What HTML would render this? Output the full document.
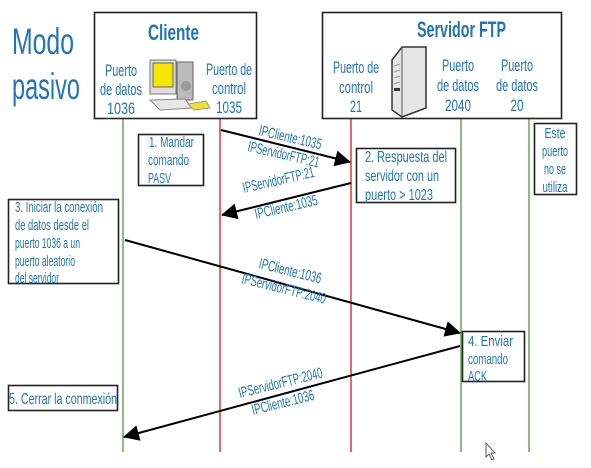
<!DOCTYPE html>
<html><head><meta charset="utf-8"><style>
body{margin:0;background:#fff}
svg{display:block}
text{font-family:"Liberation Sans Narrow","Liberation Sans",sans-serif;fill:#1f74bb}
.h{font-size:37px}
.t{font-size:22px;font-weight:bold}
.p{font-size:17px}
.n{font-size:15px}
.m{font-size:16px}
.l{font-size:15px}
</style></head><body>
<svg width="591" height="468" viewBox="0 0 591 468" xmlns="http://www.w3.org/2000/svg">
<defs>
<marker id="a2" markerWidth="16" markerHeight="16" refX="15" refY="8" orient="auto" markerUnits="userSpaceOnUse" viewBox="0 0 16 16"><path d="M0,0 L16,8 L0,16 z" fill="#000"/></marker></defs>

<line x1="123" y1="118" x2="123" y2="452" stroke="#4a9c3a" stroke-width="1.3"/>
<line x1="220" y1="118" x2="220" y2="452" stroke="#e11" stroke-width="1.3"/>
<line x1="351" y1="118" x2="351" y2="452" stroke="#e11" stroke-width="1.3"/>
<line x1="461" y1="118" x2="461" y2="452" stroke="#4a9c3a" stroke-width="1.3"/>
<line x1="529" y1="118" x2="529" y2="452" stroke="#4a9c3a" stroke-width="1.3"/>

<text class="h" x="12" y="54" textLength="62" lengthAdjust="spacingAndGlyphs">Modo</text>
<text class="h" x="12" y="99" textLength="68" lengthAdjust="spacingAndGlyphs">pasivo</text>

<rect x="94.5" y="12.5" width="162" height="106" fill="#fff" stroke="#222" stroke-width="1.6"/>
<text class="t" x="148" y="40" textLength="51" lengthAdjust="spacingAndGlyphs">Cliente</text>
<g class="p" text-anchor="middle">
<text x="121" y="76" textLength="32" lengthAdjust="spacingAndGlyphs">Puerto</text>
<text x="121" y="95" textLength="42" lengthAdjust="spacingAndGlyphs">de datos</text>
<text x="121" y="114" textLength="28" lengthAdjust="spacingAndGlyphs">1036</text>
<text x="229" y="75" textLength="46" lengthAdjust="spacingAndGlyphs">Puerto de</text>
<text x="229" y="94" textLength="34" lengthAdjust="spacingAndGlyphs">control</text>
<text x="229" y="113" textLength="26" lengthAdjust="spacingAndGlyphs">1035</text>
</g>
<rect x="150" y="60" width="26" height="34" fill="#ddd" stroke="#777"/>
<rect x="153" y="63" width="20" height="24" fill="#f5e600" stroke="#666"/>
<rect x="177" y="62" width="16" height="38" fill="#bbb" stroke="#666"/>
<circle cx="186" cy="86" r="5" fill="#999"/>
<path d="M150 100 L185 99 L192 108 L160 110 z" fill="#e8e8e8" stroke="#888"/>
<path d="M188 104 L206 101 L210 108 L194 110 z" fill="#f0e030" stroke="#999"/>

<rect x="322.5" y="12.5" width="239" height="106" fill="#fff" stroke="#222" stroke-width="1.6"/>
<text class="t" x="417" y="37" textLength="89" lengthAdjust="spacingAndGlyphs">Servidor FTP</text>
<g class="p" text-anchor="middle">
<text x="356" y="73" textLength="46" lengthAdjust="spacingAndGlyphs">Puerto de</text>
<text x="356" y="93" textLength="34" lengthAdjust="spacingAndGlyphs">control</text>
<text x="356" y="112" textLength="12" lengthAdjust="spacingAndGlyphs">21</text>
<text x="458" y="71" textLength="32" lengthAdjust="spacingAndGlyphs">Puerto</text>
<text x="458" y="91" textLength="42" lengthAdjust="spacingAndGlyphs">de datos</text>
<text x="458" y="111" textLength="26" lengthAdjust="spacingAndGlyphs">2040</text>
<text x="517" y="71" textLength="32" lengthAdjust="spacingAndGlyphs">Puerto</text>
<text x="517" y="91" textLength="42" lengthAdjust="spacingAndGlyphs">de datos</text>
<text x="517" y="111" textLength="13" lengthAdjust="spacingAndGlyphs">20</text>
</g>
<path d="M392 60 L402 47 L426 47 L426 108 L402 117 L392 110 z" fill="#e6e6e6" stroke="#333" stroke-width="1.5"/>
<path d="M402 47 L402 117" stroke="#555"/>
<g stroke="#999"><line x1="394" y1="66" x2="400" y2="64"/><line x1="394" y1="72" x2="400" y2="70"/><line x1="394" y1="78" x2="400" y2="76"/><line x1="394" y1="84" x2="400" y2="82"/></g>
<rect x="394" y="88" width="6" height="3" fill="#333"/>

<line x1="221" y1="130" x2="350" y2="162" stroke="#000" stroke-width="2" marker-end="url(#a2)"/>
<line x1="351" y1="183" x2="222" y2="215" stroke="#000" stroke-width="2" marker-end="url(#a2)"/>
<line x1="125" y1="240" x2="460" y2="333" stroke="#000" stroke-width="2" marker-end="url(#a2)"/>
<line x1="460" y1="346" x2="124" y2="437" stroke="#000" stroke-width="2" marker-end="url(#a2)"/>

<g class="l">
<text transform="translate(258,135) rotate(13)" textLength="64" lengthAdjust="spacingAndGlyphs">IPCliente:1035</text>
<text transform="translate(247,151) rotate(13)" textLength="73" lengthAdjust="spacingAndGlyphs">IPServidorFTP:21</text>
<text transform="translate(244,193) rotate(-13)" textLength="73" lengthAdjust="spacingAndGlyphs">IPServidorFTP:21</text>
<text transform="translate(256,219) rotate(-13)" textLength="64" lengthAdjust="spacingAndGlyphs">IPCliente:1035</text>
<text transform="translate(258,268) rotate(14)" textLength="64" lengthAdjust="spacingAndGlyphs">IPCliente:1036</text>
<text transform="translate(241,283) rotate(14)" textLength="86" lengthAdjust="spacingAndGlyphs">IPServidorFTP:2040</text>
<text transform="translate(240,398) rotate(-14)" textLength="86" lengthAdjust="spacingAndGlyphs">IPServidorFTP:2040</text>
<text transform="translate(253,415) rotate(-14)" textLength="64" lengthAdjust="spacingAndGlyphs">IPCliente:1036</text>
</g>

<g fill="#fff" stroke="#222" stroke-width="1.6">
<rect x="138.5" y="134.5" width="65" height="51"/>
<rect x="356.5" y="148.5" width="99" height="54"/>
<rect x="534.5" y="123.5" width="42" height="71"/>
<rect x="8.5" y="199.5" width="110" height="84"/>
<rect x="462.5" y="331.5" width="62" height="50"/>
<rect x="8.5" y="385.5" width="109" height="25"/>
</g>
<g class="n">
<text x="149" y="147" textLength="45" lengthAdjust="spacingAndGlyphs">1. Mandar</text>
<text x="148" y="165" textLength="41" lengthAdjust="spacingAndGlyphs">comando</text>
<text x="148" y="183" textLength="23" lengthAdjust="spacingAndGlyphs">PASV</text>
<text class="m" x="365" y="162" textLength="82" lengthAdjust="spacingAndGlyphs">2. Respuesta del</text>
<text class="m" x="365" y="181" textLength="74" lengthAdjust="spacingAndGlyphs">servidor con un</text>
<text class="m" x="365" y="200" textLength="68" lengthAdjust="spacingAndGlyphs">puerto &gt; 1023</text>
<g text-anchor="middle"><text x="555" y="138" textLength="21" lengthAdjust="spacingAndGlyphs">Este</text>
<text x="555" y="156" textLength="26" lengthAdjust="spacingAndGlyphs">puerto</text>
<text x="555" y="174" textLength="22" lengthAdjust="spacingAndGlyphs">no se</text>
<text x="555" y="192" textLength="25" lengthAdjust="spacingAndGlyphs">utiliza</text></g>
<text x="15" y="212" textLength="88" lengthAdjust="spacingAndGlyphs">3. Iniciar la conexión</text>
<text x="15" y="230" textLength="74" lengthAdjust="spacingAndGlyphs">de datos desde el</text>
<text x="15" y="248" textLength="65" lengthAdjust="spacingAndGlyphs">puerto 1036 a un</text>
<text x="15" y="266" textLength="60" lengthAdjust="spacingAndGlyphs">puerto aleatorio</text>
<text x="15" y="283" textLength="44" lengthAdjust="spacingAndGlyphs">del servidor</text>
<text x="468" y="346" textLength="45" lengthAdjust="spacingAndGlyphs">4. Enviar</text>
<text x="468" y="364" textLength="40" lengthAdjust="spacingAndGlyphs">comando</text>
<text x="468" y="381" textLength="19" lengthAdjust="spacingAndGlyphs">ACK</text>
<text class="m" x="9" y="404" textLength="108" lengthAdjust="spacingAndGlyphs">5. Cerrar la conmexión</text>
</g>

<path d="M486 443 L486 457 L489 454 L492 460 L494 459 L491 453 L495 453 z" fill="#fff" stroke="#333" stroke-width="0.8"/>
</svg>
</body></html>
